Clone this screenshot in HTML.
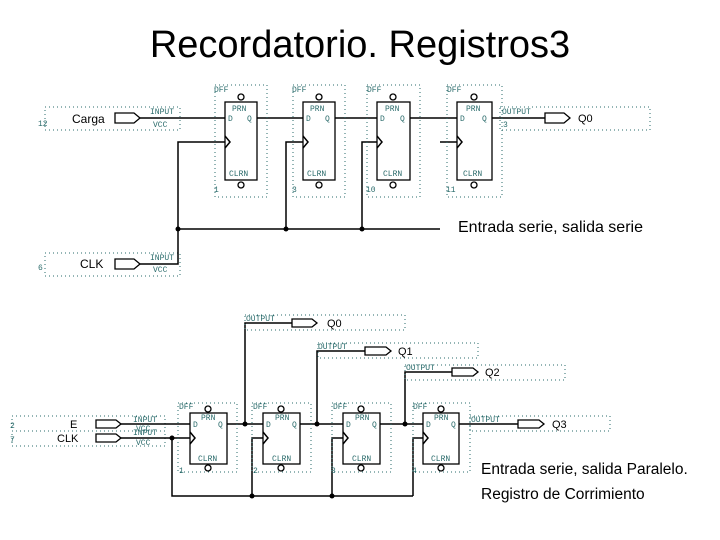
<!DOCTYPE html>
<html><head><meta charset="utf-8"><style>
body{margin:0;background:#fff;width:720px;height:540px;overflow:hidden}
svg{display:block}
.t{font-family:"Liberation Sans",sans-serif}
.s{font-family:"Liberation Mono",monospace;font-size:8px;fill:#2a6b6b}
.d{fill:none;stroke:#2a6b6b;stroke-width:1;stroke-dasharray:1 3}
.w{stroke:#000;stroke-width:1.5;fill:none}
.b{fill:#fff;stroke:#000;stroke-width:1.3}
</style></head><body>
<svg width="720" height="540" viewBox="0 0 720 540">
<text class="t" x="360" y="57" font-size="38" text-anchor="middle">Recordatorio. Registros3</text>

<!-- TOP CIRCUIT -->
<rect class="d" x="45" y="107" width="135" height="23"/>
<rect class="d" x="45" y="253" width="135" height="23"/>
<text class="s" x="38" y="126">12</text>
<text class="t" x="72" y="123" font-size="12">Carga</text>
<text class="s" x="38" y="270">6</text>
<text class="t" x="80" y="268" font-size="12">CLK</text>
<path class="b" d="M115 113h19l6 5l-6 5h-19z"/>
<path class="b" d="M115 259h19l6 5l-6 5h-19z"/>
<text class="s" x="150" y="114">INPUT</text><text class="s" x="153" y="127">VCC</text>
<text class="s" x="150" y="260">INPUT</text><text class="s" x="153" y="272">VCC</text>
<path class="w" d="M140 118H225M140 264H178V142H225M178 229H440"/>
<circle cx="178" cy="229" r="2.5"/><circle cx="286" cy="229" r="2.5"/><circle cx="362" cy="229" r="2.5"/>
<path class="w" d="M286 229V142H303M362 229V142H377M440 142H457"/>
<path class="w" d="M257 118H303M335 118H377M410 118H457M492 118H545"/>
<g>
<rect class="d" x="215" y="85" width="52" height="112"/>
<rect class="b" x="225" y="102" width="32" height="78"/>
<text class="s" x="214" y="92">DFF</text><text class="s" x="232" y="111">PRN</text><text class="s" x="228" y="121">D</text><text class="s" x="247" y="121">Q</text><text class="s" x="229" y="176">CLRN</text><text class="s" x="214" y="192">1</text>
<path class="w" d="M225 136l5 6l-5 6" stroke-width="1"/><circle cx="241" cy="97" r="3" class="b"/><circle cx="241" cy="185" r="3" class="b"/>
</g>
<g>
<rect class="d" x="293" y="85" width="52" height="112"/>
<rect class="b" x="303" y="102" width="32" height="78"/>
<text class="s" x="292" y="92">DFF</text><text class="s" x="310" y="111">PRN</text><text class="s" x="306" y="121">D</text><text class="s" x="325" y="121">Q</text><text class="s" x="307" y="176">CLRN</text><text class="s" x="292" y="192">3</text>
<path class="w" d="M303 136l5 6l-5 6" stroke-width="1"/><circle cx="319" cy="97" r="3" class="b"/><circle cx="319" cy="185" r="3" class="b"/>
</g>
<g>
<rect class="d" x="367" y="85" width="53" height="112"/>
<rect class="b" x="377" y="102" width="33" height="78"/>
<text class="s" x="367" y="92">DFF</text><text class="s" x="385" y="111">PRN</text><text class="s" x="380" y="121">D</text><text class="s" x="400" y="121">Q</text><text class="s" x="383" y="176">CLRN</text><text class="s" x="366" y="192">10</text>
<path class="w" d="M377 136l5 6l-5 6" stroke-width="1"/><circle cx="393" cy="97" r="3" class="b"/><circle cx="393" cy="185" r="3" class="b"/>
</g>
<g>
<rect class="d" x="447" y="85" width="55" height="112"/>
<rect class="b" x="457" y="102" width="35" height="78"/>
<text class="s" x="447" y="92">DFF</text><text class="s" x="466" y="111">PRN</text><text class="s" x="460" y="121">D</text><text class="s" x="482" y="121">Q</text><text class="s" x="463" y="176">CLRN</text><text class="s" x="446" y="192">11</text>
<path class="w" d="M457 136l5 6l-5 6" stroke-width="1"/><circle cx="474" cy="97" r="3" class="b"/><circle cx="474" cy="185" r="3" class="b"/>
</g>
<rect class="d" x="500" y="107" width="150" height="23"/>
<text class="s" x="502" y="114">OUTPUT</text><text class="s" x="503" y="127">3</text>
<path class="b" d="M545 113h19l6 5l-6 5h-19z"/>
<text class="t" x="578" y="122" font-size="11">Q0</text>
<text class="t" x="458" y="232" font-size="16">Entrada serie, salida serie</text>

<!-- BOTTOM CIRCUIT -->
<rect class="d" x="12" y="416" width="153" height="15"/>
<rect class="d" x="12" y="431" width="153" height="15"/>
<text class="s" x="10" y="428">2</text><text class="s" x="10" y="442">7</text>
<text class="t" x="70" y="428" font-size="11">E</text>
<text class="t" x="57" y="442" font-size="11">CLK</text>
<path class="b" d="M96 420h20l5 4l-5 4h-20z"/>
<path class="b" d="M96 434h20l5 4l-5 4h-20z"/>
<text class="s" x="133" y="422">INPUT</text><text class="s" x="136" y="431">VCC</text>
<text class="s" x="133" y="435">INPUT</text><text class="s" x="136" y="445">VCC</text>
<path class="w" d="M121 424H190M121 438H190M172 438V496H413M227 424H263M300 424H343M380 424H423M459 424H518"/>
<path class="w" d="M252 496V438H263M332 496V438H343M413 496V438H423"/>
<path class="w" d="M245 424V323H292M317 424V351H365M405 424V372H452"/>
<circle cx="172" cy="438" r="2.5"/><circle cx="252" cy="496" r="2.5"/><circle cx="332" cy="496" r="2.5"/>
<circle cx="245" cy="424" r="2.5"/><circle cx="317" cy="424" r="2.5"/><circle cx="405" cy="424" r="2.5"/>
<g>
<rect class="d" x="178" y="403" width="59" height="69"/>
<rect class="b" x="190" y="413" width="37" height="51"/>
<text class="s" x="179" y="409">DFF</text><text class="s" x="201" y="420">PRN</text><text class="s" x="193" y="427">D</text><text class="s" x="218" y="427">Q</text><text class="s" x="198" y="461">CLRN</text><text class="s" x="179" y="473">1</text>
<path class="w" d="M190 432l5 6l-5 6" stroke-width="1"/><circle cx="208" cy="409" r="3" class="b"/><circle cx="208" cy="468" r="3" class="b"/>
</g>
<g>
<rect class="d" x="252" y="403" width="59" height="69"/>
<rect class="b" x="263" y="413" width="37" height="51"/>
<text class="s" x="253" y="409">DFF</text><text class="s" x="275" y="420">PRN</text><text class="s" x="266" y="427">D</text><text class="s" x="292" y="427">Q</text><text class="s" x="272" y="461">CLRN</text><text class="s" x="253" y="473">2</text>
<path class="w" d="M263 432l5 6l-5 6" stroke-width="1"/><circle cx="281" cy="409" r="3" class="b"/><circle cx="281" cy="468" r="3" class="b"/>
</g>
<g>
<rect class="d" x="332" y="403" width="59" height="69"/>
<rect class="b" x="343" y="413" width="37" height="51"/>
<text class="s" x="333" y="409">DFF</text><text class="s" x="355" y="420">PRN</text><text class="s" x="346" y="427">D</text><text class="s" x="372" y="427">Q</text><text class="s" x="352" y="461">CLRN</text><text class="s" x="331" y="473">3</text>
<path class="w" d="M343 432l5 6l-5 6" stroke-width="1"/><circle cx="361" cy="409" r="3" class="b"/><circle cx="361" cy="468" r="3" class="b"/>
</g>
<g>
<rect class="d" x="413" y="403" width="57" height="69"/>
<rect class="b" x="423" y="413" width="36" height="51"/>
<text class="s" x="413" y="409">DFF</text><text class="s" x="434" y="420">PRN</text><text class="s" x="426" y="427">D</text><text class="s" x="451" y="427">Q</text><text class="s" x="431" y="461">CLRN</text><text class="s" x="412" y="473">4</text>
<path class="w" d="M423 432l5 6l-5 6" stroke-width="1"/><circle cx="441" cy="409" r="3" class="b"/><circle cx="441" cy="468" r="3" class="b"/>
</g>
<rect class="d" x="245" y="315" width="160" height="15"/>
<text class="s" x="246" y="321">OUTPUT</text>
<path class="b" d="M292 319h20l5 4l-5 4h-20z"/><text class="t" x="327" y="327" font-size="11">Q0</text>
<rect class="d" x="318" y="343" width="160" height="15"/>
<text class="s" x="318" y="349">OUTPUT</text>
<path class="b" d="M365 347h21l5 4l-5 4h-21z"/><text class="t" x="398" y="355" font-size="11">Q1</text>
<rect class="d" x="405" y="365" width="160" height="15"/>
<text class="s" x="406" y="370">OUTPUT</text>
<path class="b" d="M452 368h21l5 4l-5 4h-21z"/><text class="t" x="485" y="376" font-size="11">Q2</text>
<rect class="d" x="470" y="416" width="140" height="15"/>
<text class="s" x="471" y="422">OUTPUT</text>
<path class="b" d="M518 420h21l5 4l-5 4h-21z"/><text class="t" x="552" y="428" font-size="11">Q3</text>
<text class="t" x="481" y="474" font-size="15.5">Entrada serie, salida Paralelo.</text>
<text class="t" x="481" y="499" font-size="15.5">Registro de Corrimiento</text>
</svg>
</body></html>
